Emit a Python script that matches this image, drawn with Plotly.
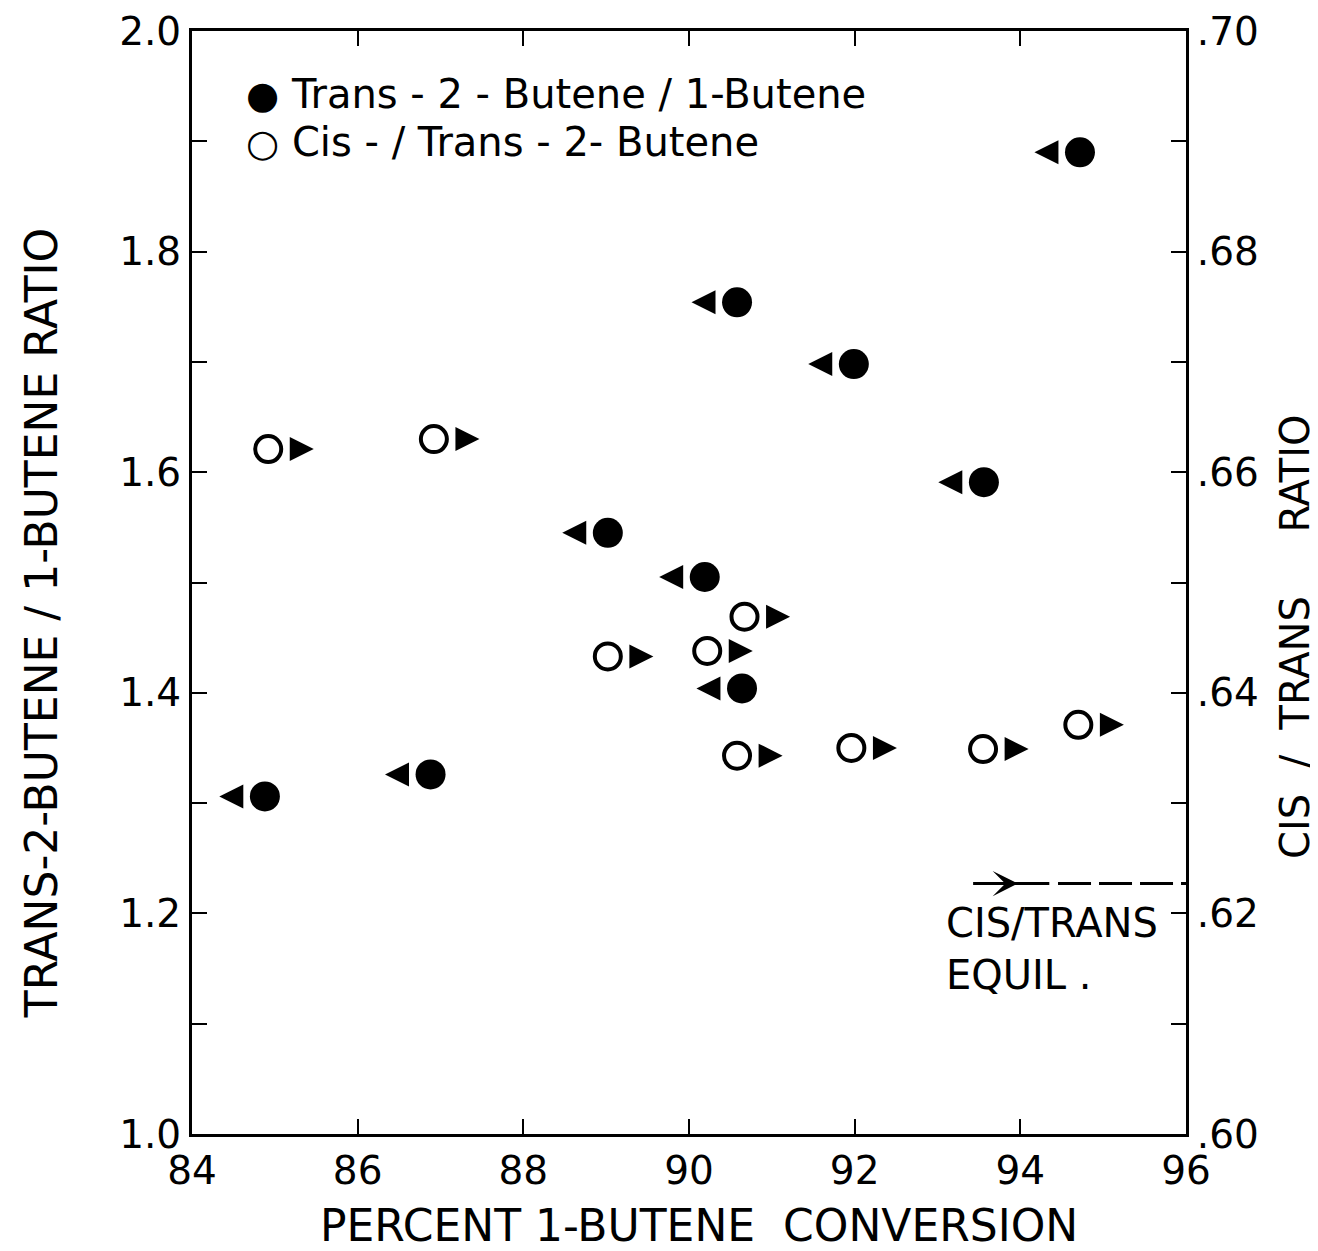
import plotly.graph_objects as go

# ---------------- data ----------------
trans_conv = [84.88, 86.88, 89.02, 90.19, 90.64, 90.58, 91.99, 93.56, 94.72]
trans_ratio = [1.306, 1.326, 1.545, 1.505, 1.404, 1.754, 1.698, 1.591, 1.890]

cis_conv = [84.92, 86.92, 89.02, 90.22, 90.67, 90.58, 91.96, 93.55, 94.70]
cis_ratio = [0.6621, 0.6630, 0.6433, 0.6438, 0.6469, 0.6343, 0.6350, 0.6349, 0.6371]

equil_ratio = 0.6227

x_ticks = [84, 86, 88, 90, 92, 94, 96]
y_left_ticks = [round(1.0 + 0.1 * i, 1) for i in range(11)]
y_left_text = [f"{v:.1f}" if i % 2 == 0 else "" for i, v in enumerate(y_left_ticks)]
y_right_ticks = [round(0.60 + 0.01 * i, 2) for i in range(11)]
y_right_text = [f"{v:.2f}"[1:] if i % 2 == 0 else "" for i, v in enumerate(y_right_ticks)]

# ---------------- style ----------------
FONT = "DejaVu Sans"
ARROW_TIP_OFF = 0.55   # x-units between a point and the tip of its axis arrow
ARROW_LEN = 20         # px
BLACK = "black"

fig = go.Figure()

fig.add_trace(go.Scatter(
    x=trans_conv, y=trans_ratio, mode="markers", name="Trans-2-Butene / 1-Butene",
    marker=dict(symbol="circle", size=30, color=BLACK, line=dict(width=0)),
    showlegend=False))
fig.add_trace(go.Scatter(
    x=cis_conv, y=cis_ratio, mode="markers", name="Cis-/Trans-2-Butene", yaxis="y2",
    marker=dict(symbol="circle", size=26, color="white", line=dict(width=4, color=BLACK)),
    showlegend=False))

# small arrows pointing to the axis each series belongs to
for xv, yv in zip(trans_conv, trans_ratio):
    fig.add_annotation(x=xv - ARROW_TIP_OFF, y=yv, xref="x", yref="y", ax=ARROW_LEN, ay=0,
                       text="", showarrow=True, arrowhead=2, arrowsize=1.2, arrowwidth=4,
                       arrowcolor=BLACK)
for xv, yv in zip(cis_conv, cis_ratio):
    fig.add_annotation(x=xv + ARROW_TIP_OFF, y=yv, xref="x", yref="y2", ax=-ARROW_LEN, ay=0,
                       text="", showarrow=True, arrowhead=2, arrowsize=1.2, arrowwidth=4,
                       arrowcolor=BLACK)

# equilibrium line (arrow + dashes)
fig.add_shape(type="line", xref="x", yref="y2", x0=93.43, x1=94.35, y0=equil_ratio, y1=equil_ratio,
              line=dict(color=BLACK, width=3))
fig.add_shape(type="line", xref="x", yref="y2", x0=94.455, x1=96, y0=equil_ratio, y1=equil_ratio,
              line=dict(color=BLACK, width=3, dash="33px,8px"))
fig.add_annotation(x=93.97, y=equil_ratio, xref="x", yref="y2", ax=93.43, ay=equil_ratio,
                   axref="x", ayref="y2", text="", showarrow=True, arrowhead=3,
                   arrowsize=1.4, arrowwidth=3, arrowcolor=BLACK)
fig.add_annotation(x=93.08, y=0.6168, xref="x", yref="y2", text="CIS/TRANS<br>EQUIL .",
                   showarrow=False, xanchor="left", yanchor="middle", align="left",
                   font=dict(family=FONT, size=40, color=BLACK))

# legend (as text)
fig.add_annotation(x=0.052, y=0.943, xref="paper", yref="paper", xanchor="left", yanchor="middle",
                   text="<span style='font-size:38px'>●</span>&nbsp;Trans - 2 - Butene / 1-Butene",
                   showarrow=False, font=dict(family=FONT, size=40, color=BLACK))
fig.add_annotation(x=0.052, y=0.899, xref="paper", yref="paper", xanchor="left", yanchor="middle",
                   text="<span style='font-size:38px'>○</span>&nbsp;Cis - / Trans - 2- Butene",
                   showarrow=False, font=dict(family=FONT, size=40, color=BLACK))

# axis titles
fig.add_annotation(x=-0.152, y=0.463, xref="paper", yref="paper", textangle=-90,
                   xanchor="center", yanchor="middle",
                   text="TRANS-2-BUTENE / 1-BUTENE RATIO", showarrow=False,
                   font=dict(family=FONT, size=44, color=BLACK))
fig.add_annotation(x=1.109, y=0.451, xref="paper", yref="paper", textangle=-90,
                   xanchor="center", yanchor="middle",
                   text="CIS&nbsp;&nbsp;/&nbsp;&nbsp;TRANS&nbsp;&nbsp;&nbsp;&nbsp;&nbsp;RATIO", showarrow=False,
                   font=dict(family=FONT, size=40, color=BLACK))
fig.add_annotation(x=0.510, y=-0.083, xref="paper", yref="paper",
                   xanchor="center", yanchor="middle",
                   text="PERCENT 1-BUTENE&nbsp;&nbsp;CONVERSION", showarrow=False,
                   font=dict(family=FONT, size=44, color=BLACK))

axis_common = dict(showgrid=False, zeroline=False, showline=True, linecolor=BLACK, linewidth=3,
                   ticks="inside", ticklen=15, tickwidth=2, tickcolor=BLACK, automargin=False,
                   ticklabeloverflow="allow",
                   tickfont=dict(family=FONT, size=39, color=BLACK))

fig.update_layout(
    template="none",
    width=1318, height=1251,
    margin=dict(l=184, r=140, t=23, b=125),
    paper_bgcolor="white", plot_bgcolor="white",
    xaxis=dict(range=[84, 96], tickvals=x_ticks, ticktext=[str(v) for v in x_ticks],
               mirror="ticks", **axis_common),
    yaxis=dict(range=[1.0, 2.0], tickvals=y_left_ticks, ticktext=y_left_text, **axis_common),
    yaxis2=dict(range=[0.60, 0.70], tickvals=y_right_ticks, ticktext=y_right_text,
                overlaying="y", side="right", **axis_common),
    showlegend=False,
)

fig.write_html("out.html")
